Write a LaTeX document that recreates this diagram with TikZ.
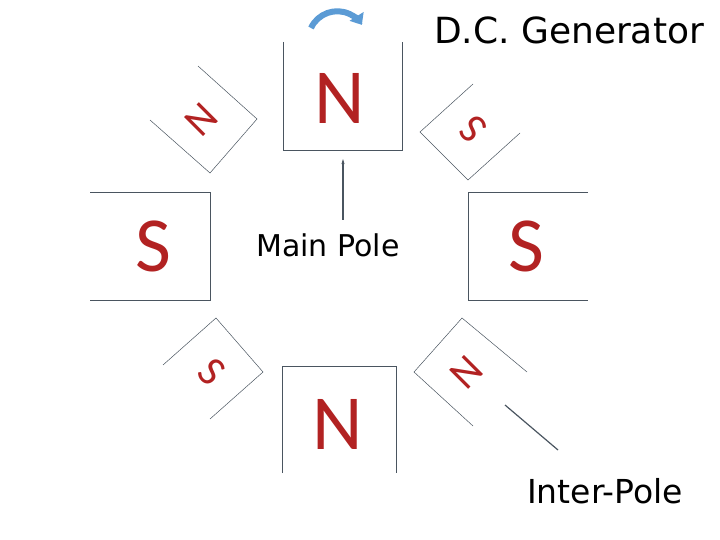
\documentclass[tikz,border=0pt]{standalone}
\usepackage{fontspec}
\setmainfont{DejaVu Sans}
\newfontfamily\polefont{Carlito}
\usetikzlibrary{arrows.meta}
\definecolor{polered}{HTML}{B22222}
\definecolor{linegray}{HTML}{4A5560}
\definecolor{arrowblue}{HTML}{5B9BD5}
\begin{document}
\begin{tikzpicture}[x=1pt,y=-1pt,
  pole/.style={draw=linegray,line width=0.8pt},
  ipole/.style={draw=linegray,line width=0.5pt},
  bigl/.style={text=polered,font=\polefont\fontsize{78}{78}\selectfont,inner sep=0pt},
  smalll/.style={text=polered,font=\polefont\fontsize{42}{42}\selectfont,inner sep=0pt},
  lbl/.style={inner sep=0pt}]
\useasboundingbox (0,0) rectangle (720,540);
% main poles
\draw[pole] (283,42) -- (283,150) -- (402,150) -- (402,42);
\draw[pole] (90,192) -- (210,192) -- (210,300) -- (90,300);
\draw[pole] (588,192) -- (468,192) -- (468,300) -- (588,300);
\draw[pole] (282,473) -- (282,366) -- (396,366) -- (396,473);
% inter poles
\draw[ipole] (198,66) -- (257,119) -- (210,173) -- (150,120);
\draw[ipole] (473,84) -- (420,132) -- (468,180) -- (520,133);
\draw[ipole] (163,365) -- (216,318) -- (263,372) -- (210,419);
\draw[ipole] (527,372) -- (462,318) -- (414,372) -- (473,426);
% letters
\node[bigl] (nt) at (340,98) {N};
\node[bigl] (sl) at (153,246) {S};
\node[bigl] (sr) at (526,246) {S};
\node[bigl] (nb) at (338,424) {N};
\node[smalll,rotate=-135] (n1) at (201,120) {N};
\node[smalll,rotate=135] (s1) at (473,129) {S};
\node[smalll,rotate=-45] (s2) at (212,372) {S};
\node[smalll,rotate=45] (n2) at (467,372) {N};
% labels
\node[lbl,font=\fontsize{30}{30}\selectfont] (mp) at (328,245) {Main Pole};
\node[lbl,font=\fontsize{33}{33}\selectfont] (ip) at (605,491) {Inter-Pole};
\node[lbl,font=\fontsize{36}{36}\selectfont] (title) at (569,30) {D.C. Generator};
\coordinate (mptip) at (343,159);
\coordinate (iptip) at (505,405);
\coordinate (ipend) at (558,450);
\draw[linegray,line width=1.2pt,-{Stealth[length=5pt,width=3pt]}] (343,220) -- (mptip);
\draw[linegray,line width=1.2pt] (ipend) -- (iptip);
% rotation arrow
\draw[arrowblue,line width=6pt,-{Triangle[length=10pt,width=16pt]}] (311,28) arc[start angle=-155,end angle=-32,radius=29];
\end{tikzpicture}
\end{document}
